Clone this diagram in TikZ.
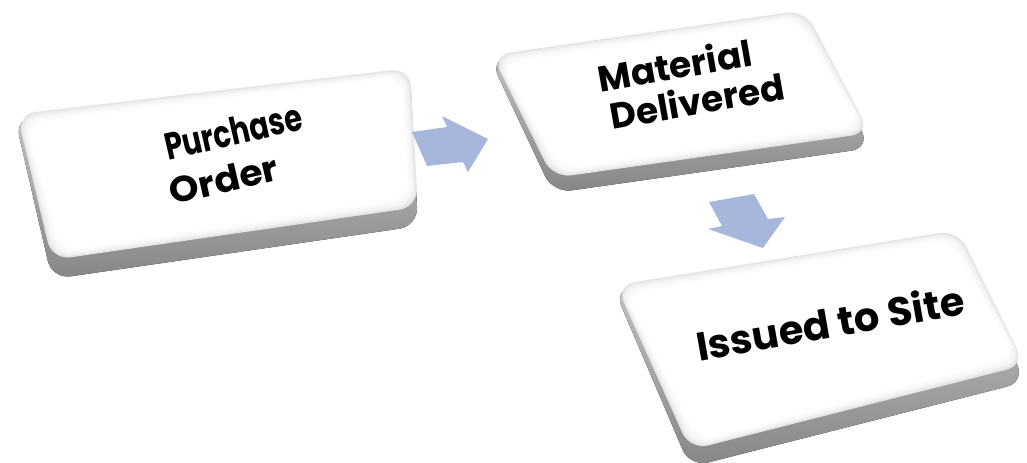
\documentclass[tikz,border=0pt]{standalone}
\usepackage{fontspec}
\usepackage{graphicx}
\setmainfont{Poppins}
\usetikzlibrary{calc}
\definecolor{arrowblue}{RGB}{167,183,219}
\tikzset{
  keytext/.style={font=\bfseries\fontsize{27}{27}\selectfont, text=black, align=center, inner sep=0pt},
  blockarrow/.style={fill=arrowblue, draw=none},
  keybase/.style={rounded corners=14pt, top color=gray!35, bottom color=gray!95, draw=none},
  keyface/.style={rounded corners=14pt, draw=none}
}
\newcommand\drawkey[5]{%
  \fill[keybase] ($(#1)+(-2,4)$) -- ($(#2)+(0,4)$) -- ($(#3)+(0,#5)$) -- ($(#4)+(0,#5)$) -- cycle;
  \foreach \s/\c in {0/20,1.5/14,3/9,5/5,7/2,9/0}{%
    \fill[keyface, fill=gray!\c] ($(#1)+(\s,\s)$) -- ($(#2)+(-\s,\s)$) -- ($(#3)+(-\s,-\s)$) -- ($(#4)+(\s,-\s)$) -- cycle;
  }%
}
\begin{document}
\begin{tikzpicture}[x=0.75pt, y=-0.75pt]
\useasboundingbox (0,0) rectangle (1027,462);
% key corners
\coordinate (a1) at (17,114);  \coordinate (b1) at (410,68);
\coordinate (c1) at (418,207); \coordinate (d1) at (52,260);
\coordinate (a2) at (492,55);  \coordinate (b2) at (805,10);
\coordinate (c2) at (870,133); \coordinate (d2) at (553,178);
\coordinate (a3) at (616,285); \coordinate (b3) at (958,230);
\coordinate (c3) at (1025,365);\coordinate (d3) at (690,450);
\drawkey{a1}{b1}{c1}{d1}{19}
\drawkey{a2}{b2}{c2}{d2}{15}
\drawkey{a3}{b3}{c3}{d3}{17}
% texts
\node[keytext, rotate=13] (po) at (238,153)
  {\scalebox{0.8}[1.05]{Purchase}\\[6pt]\scalebox{1.05}[1]{Order}\hspace*{30pt}};
\node[keytext, rotate=10, font=\bfseries\fontsize{27}{29}\selectfont] (md) at (678,84)
  {Material\\\hspace*{24pt}Delivered};
\node[keytext, rotate=10, font=\bfseries\fontsize{30}{30}\selectfont] (its) at (830,322) {Issued to Site};
% block arrows
\fill[blockarrow] (412,132) -- (447,127) -- (442,116) -- (488,139) -- (468,172) -- (463,162) -- (427,166) -- cycle;
\fill[blockarrow] (709,202) -- (754,194) -- (768,219) -- (785,217) -- (763,248) -- (708,229) -- (722,226) -- cycle;
\end{tikzpicture}
\end{document}
